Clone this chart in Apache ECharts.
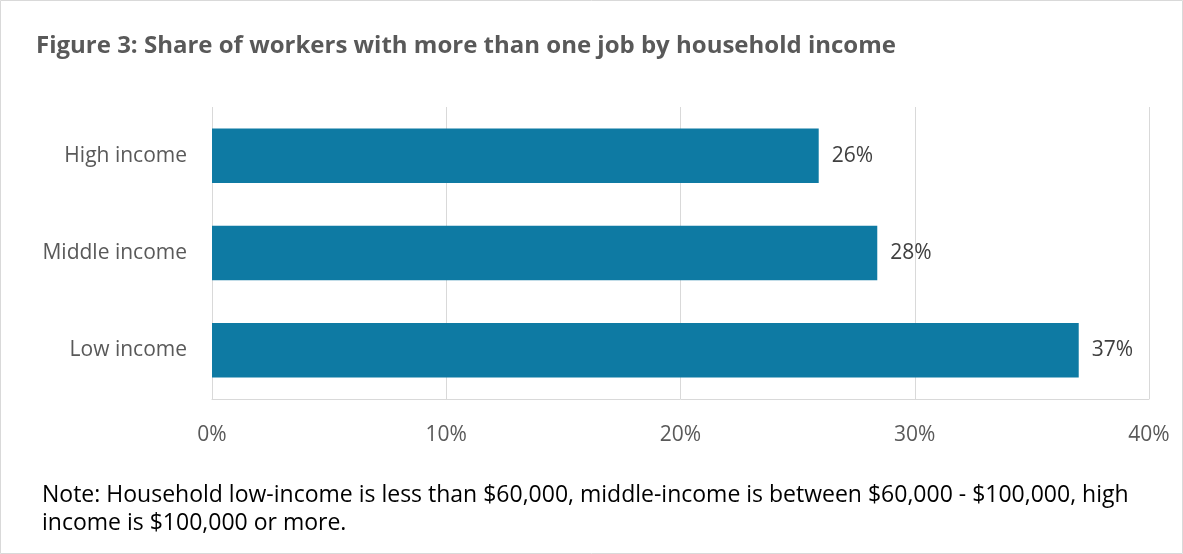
<!DOCTYPE html>
<html><head><meta charset="utf-8">
<script src="https://cdn.jsdelivr.net/npm/echarts@6/dist/echarts.min.js"></script>
<style>html,body{margin:0;padding:0;background:#fff}#c{width:1183px;height:554px}</style>
</head><body><div id="c"></div>
<script>
const categories = ['Low income', 'Middle income', 'High income'];
const shares = [37.0, 28.4, 25.9];
const tickLabels = ['0%', '10%', '20%', '30%', '40%'];
const titleText = 'Figure 3: Share of workers with more than one job by household income';
const noteLines = ['Note: Household low-income is less than $60,000, middle-income is between $60,000 - $100,000, high', 'income is $100,000 or more.'];

const chart = echarts.init(document.getElementById('c'), null, {renderer: 'canvas'});
chart.setOption({
  animation: false,
  backgroundColor: '#fff',
  title: {
    text: titleText, left: 36, top: 34, padding: 0,
    textStyle: {fontFamily: 'Open Sans', fontWeight: 'bold', fontSize: 24, color: '#595959'}
  },
  graphic: [
    {type: 'rect', shape: {x: 0.5, y: 0.5, width: 1182, height: 553}, style: {fill: 'none', stroke: '#d9d9d9', lineWidth: 1}, silent: true},
    {type: 'text', left: 42, top: 481, style: {text: noteLines.join('\n'), fontFamily: 'Open Sans', fontSize: 23, lineHeight: 28, fill: '#000'}}
  ],
  grid: {left: 212, right: 34, top: 107, bottom: 155, containLabel: false},
  xAxis: {
    type: 'value', min: 0, max: 40, interval: 10,
    axisLine: {show: true, lineStyle: {color: '#d9d9d9'}},
    axisTick: {show: false},
    axisLabel: {formatter: v => tickLabels[v / 10], margin: 26, fontFamily: 'Open Sans', fontSize: 21, color: '#595959'},
    splitLine: {show: true, lineStyle: {color: '#d9d9d9', width: 1}}
  },
  yAxis: {
    type: 'category', data: categories,
    axisLine: {show: false}, axisTick: {show: false},
    axisLabel: {margin: 25, fontFamily: 'Open Sans', fontSize: 21, color: '#595959'}
  },
  series: [{
    type: 'bar', data: shares, barCategoryGap: '44%',
    itemStyle: {color: '#0E7AA3'},
    label: {show: true, position: 'right', distance: 13, formatter: p => Math.round(p.value) + '%', fontFamily: 'Open Sans', fontSize: 21, color: '#404040'}
  }]
});
</script></body></html>
